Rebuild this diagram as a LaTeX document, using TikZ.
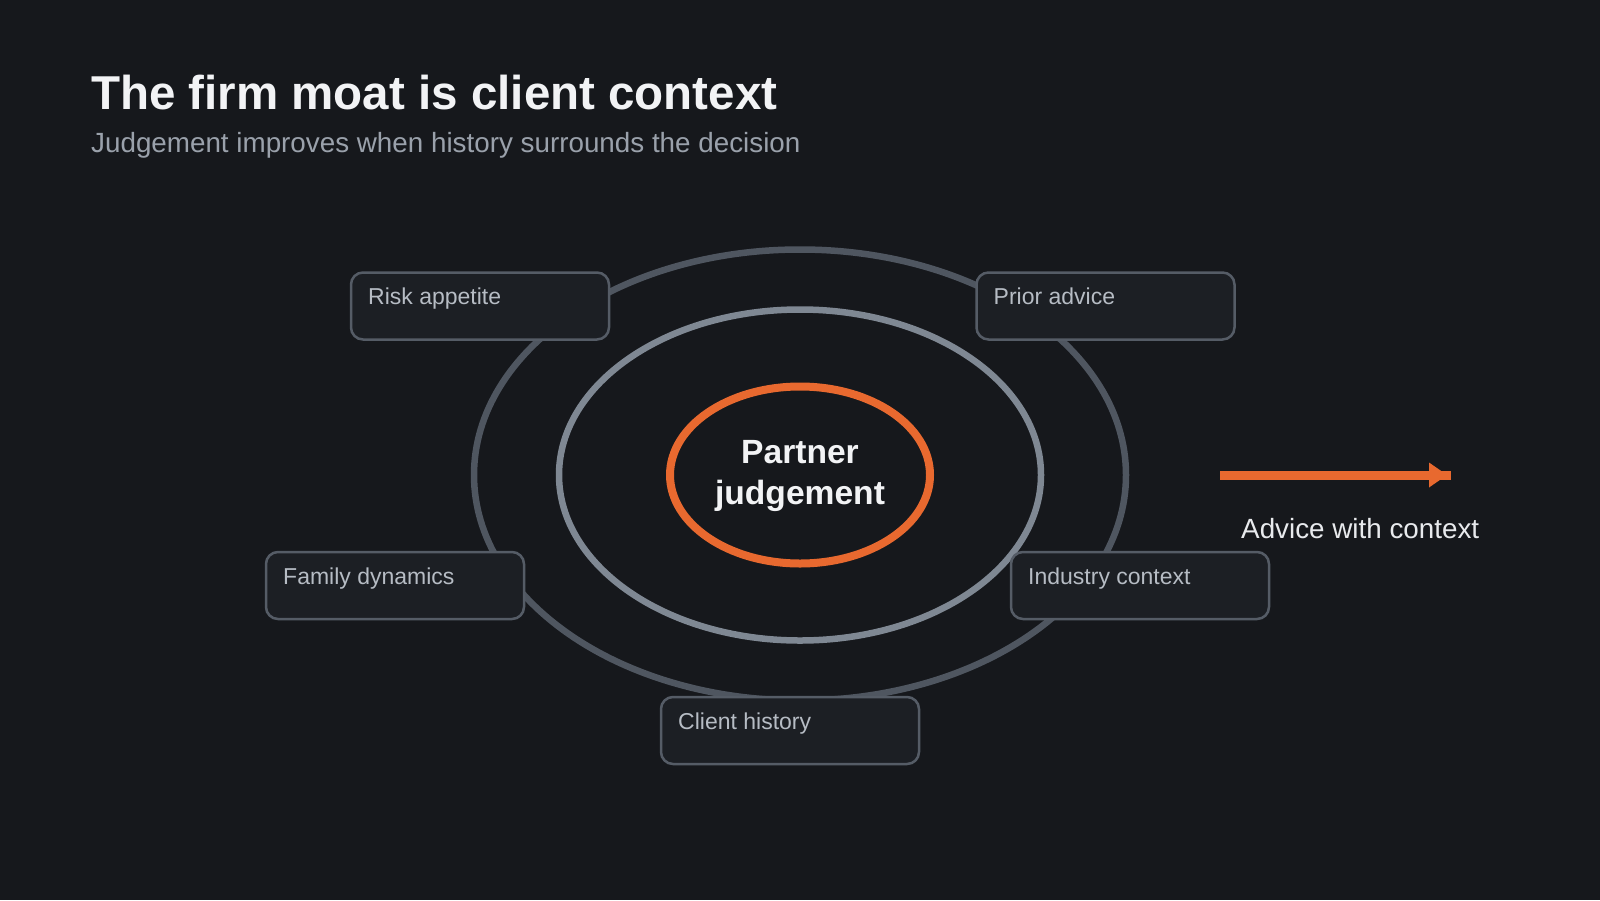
\documentclass[tikz,border=0pt]{standalone}
\usepackage{fontspec}
\setmainfont{Liberation Sans}
\usetikzlibrary{shapes.geometric}
\definecolor{bgc}{HTML}{16181C}
\definecolor{titlec}{HTML}{F2F3F5}
\definecolor{subc}{HTML}{9AA1AB}
\definecolor{outerc}{HTML}{4F5660}
\definecolor{midc}{HTML}{7F8893}
\definecolor{orangec}{HTML}{E8692F}
\definecolor{boxfill}{HTML}{1C1F24}
\definecolor{boxdraw}{HTML}{555C66}
\definecolor{boxtextc}{HTML}{B6BCC4}
\definecolor{advc}{HTML}{E8EAED}
\tikzset{
  ring/.style={ellipse, draw, inner sep=0pt, outer sep=0pt},
  ctxbox/.style={rectangle, rounded corners=12pt, draw=boxdraw, fill=boxfill, line width=2.5pt,
    minimum width=258pt, minimum height=67pt, inner sep=0pt, outer sep=0pt, anchor=north west},
  ctxtext/.style={anchor=base west, inner sep=0pt, text=boxtextc, font=\fontsize{23}{27}\selectfont},
}
\begin{document}
\begin{tikzpicture}[x=1pt,y=-1pt]
\fill[bgc] (0,0) rectangle (1600,900);
\useasboundingbox (0,0) rectangle (1600,900);

\node[anchor=base west, inner sep=0pt, text=titlec, font=\fontsize{47.5}{56}\selectfont\bfseries] (title) at (91,109) {The firm moat is client context};
\node[anchor=base west, inner sep=0pt, text=subc, font=\fontsize{27.8}{32}\selectfont] (subtitle) at (91,152) {Judgement improves when history surrounds the decision};

\node[ring, draw=outerc, line width=6.5pt, minimum width=652pt, minimum height=451pt] (outer) at (800,475) {};
\node[ring, draw=midc, line width=6.5pt, minimum width=482pt, minimum height=331pt] (middle) at (800,475) {};
\node[ring, draw=orangec, line width=8pt, minimum width=260pt, minimum height=177pt] (core) at (800,475) {};
\node[anchor=base, inner sep=0pt, text=titlec, font=\fontsize{33.6}{38.5}\selectfont\bfseries] (p1) at (800,463) {Partner};
\node[anchor=base, inner sep=0pt, text=titlec, font=\fontsize{33.6}{38.5}\selectfont\bfseries] (p2) at (800,504) {judgement};

\node[ctxbox] (risk) at (351,272.5) {};
\node[ctxtext] (risktext) at ([shift={(17,32)}]risk.north west) {Risk appetite};
\node[ctxbox] (prior) at (976.5,272.5) {};
\node[ctxtext] (priortext) at ([shift={(17,32)}]prior.north west) {Prior advice};
\node[ctxbox] (family) at (266,552) {};
\node[ctxtext] (familytext) at ([shift={(17,32)}]family.north west) {Family dynamics};
\node[ctxbox] (industry) at (1011,552) {};
\node[ctxtext] (industrytext) at ([shift={(17,32)}]industry.north west) {Industry context};
\node[ctxbox] (client) at (661,697) {};
\node[ctxtext] (clienttext) at ([shift={(17,32)}]client.north west) {Client history};

\coordinate (a1) at (1220,475);
\coordinate (a2) at (1451,475);
\draw[orangec, line width=9pt] (a1) -- (a2);
\fill[orangec] ([xshift=-22pt,yshift=-12.5pt]a2) -- ([xshift=-4pt]a2) -- ([xshift=-22pt,yshift=12.5pt]a2) -- cycle;
\node[anchor=base west, inner sep=0pt, text=advc, font=\fontsize{27.8}{32}\selectfont] (adv) at (1241,538) {Advice with context};
\end{tikzpicture}
\end{document}
